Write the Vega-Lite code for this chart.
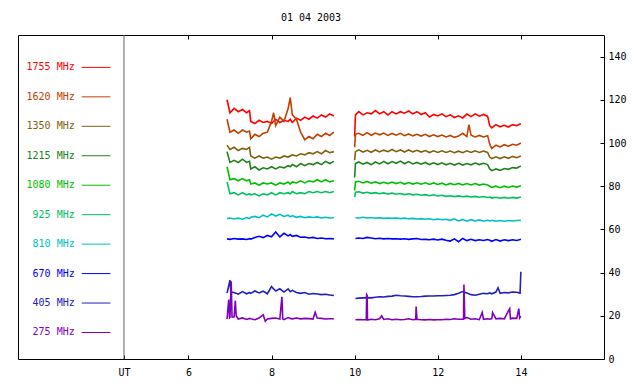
{
  "$schema": "https://vega.github.io/schema/vega-lite/v6.json",
  "width": 586,
  "height": 324,
  "autosize": {"type": "none"},
  "padding": {"left": 18, "top": 35, "right": 36, "bottom": 25},
  "background": "white",
  "title": {"text": "01 04 2003", "font": "DejaVu Sans Mono", "fontSize": 10, "fontWeight": "normal", "color": "#000", "anchor": "middle", "offset": 12},
  "config": {"view": {"stroke": "#000", "strokeWidth": 1}, "font": "DejaVu Sans Mono"},
  "datasets": {
    "main": [
      {"seg":1,"t":6.93,"a":120,"b":111,"c":99,"d":96,"e":89,"f":82,"g":65,"h":55.6,"i":30.5,"j":18.5},
      {"seg":1,"t":6.97,"j":27.5},
      {"seg":1,"t":6.99,"j":19},
      {"seg":1,"t":7.0,"a":114,"b":105,"c":97,"d":91,"e":83,"f":76.5,"g":65.3,"h":55.4,"i":36.5,"j":19.2},
      {"seg":1,"t":7.02,"i":31},
      {"seg":1,"t":7.03,"j":36},
      {"seg":1,"t":7.05,"j":19.5},
      {"seg":1,"t":7.1,"a":116,"b":106,"c":98,"d":92,"e":83.5,"f":77,"g":64.8,"h":55.8,"i":30.8,"j":19.5},
      {"seg":1,"t":7.13,"j":27},
      {"seg":1,"t":7.15,"j":20},
      {"seg":1,"t":7.2,"a":114.5,"b":104.5,"c":96.5,"d":91,"e":82.5,"f":76,"g":65.2,"h":55.5,"i":30,"j":18.5},
      {"seg":1,"t":7.3,"a":115.5,"b":106,"c":97.5,"d":92.5,"e":83.5,"f":77,"g":64.7,"h":55.6,"i":31.2,"j":19},
      {"seg":1,"t":7.4,"a":114,"b":105,"c":97,"d":91,"e":82.5,"f":76,"g":65.5,"h":55.3,"i":30.2,"j":18.3},
      {"seg":1,"t":7.47,"a":115,"b":105.5,"c":98,"d":91.5,"e":83,"f":76.5,"g":65,"h":55.7,"i":30.8,"j":18.8},
      {"seg":1,"t":7.5,"a":110,"b":102,"c":94,"d":88,"e":81,"f":76,"g":65.6,"h":55.5,"i":30.4,"j":18.6},
      {"seg":1,"t":7.6,"a":109,"b":104,"c":93,"d":89,"e":81.5,"f":76.5,"g":66,"h":56.2,"i":31.5,"j":18.2},
      {"seg":1,"t":7.7,"a":110.5,"b":103,"c":94,"d":87.5,"e":80.5,"f":75.5,"g":65.4,"h":56.8,"i":30.6,"j":19},
      {"seg":1,"t":7.8,"a":109.5,"b":104.5,"c":93,"d":88.5,"e":81.5,"f":76.5,"g":66.6,"h":56.2,"i":31.4,"j":20.5},
      {"seg":1,"t":7.85,"j":17.5},
      {"seg":1,"t":7.9,"a":110,"b":105,"c":93.5,"d":88,"e":81,"f":76,"g":65.8,"h":57.2,"i":30.2,"j":18.5},
      {"seg":1,"t":8.0,"a":109,"b":110,"c":92.5,"d":89,"e":81.5,"f":77,"g":67.2,"h":56.6,"i":33.5,"j":18.8},
      {"seg":1,"t":8.05,"b":114},
      {"seg":1,"t":8.1,"a":111,"b":108,"c":93.5,"d":88,"e":80.5,"f":76,"g":66.2,"h":58.8,"i":31.5,"j":19},
      {"seg":1,"t":8.2,"a":109.5,"b":112,"c":93,"d":89,"e":81.5,"f":77,"g":67,"h":56.5,"i":32.5,"j":18.5},
      {"seg":1,"t":8.25,"j":28.8},
      {"seg":1,"t":8.27,"j":18.6},
      {"seg":1,"t":8.3,"a":110.5,"b":110,"c":94,"d":88.5,"e":81,"f":76.5,"g":66,"h":58.2,"i":31,"j":18.2},
      {"seg":1,"t":8.4,"a":110,"b":116,"c":93.5,"d":89.5,"e":82,"f":77,"g":66.6,"h":57,"i":32.5,"j":19.2},
      {"seg":1,"t":8.45,"a":111,"b":121,"c":94,"d":89,"e":81,"f":76.5,"g":65.8,"h":57.6,"i":31.2,"j":18.8},
      {"seg":1,"t":8.5,"a":109.5,"b":113,"c":94.5,"d":90,"e":82,"f":77.5,"g":66.4,"h":56.8,"i":31.8,"j":18.6},
      {"seg":1,"t":8.6,"a":111.5,"b":111,"c":94,"d":89,"e":81.5,"f":76.5,"g":65.6,"h":57.2,"i":30.8,"j":19},
      {"seg":1,"t":8.7,"a":110.5,"b":105,"c":95,"d":90.5,"e":82.5,"f":77,"g":66,"h":56.4,"i":30.4,"j":18.6},
      {"seg":1,"t":8.8,"a":112,"b":101.5,"c":94.5,"d":89.5,"e":81.5,"f":76.5,"g":65.4,"h":56.5,"i":30.8,"j":18.8},
      {"seg":1,"t":8.9,"a":111,"b":103,"c":95.5,"d":90.5,"e":82.5,"f":77.5,"g":65.8,"h":56,"i":30,"j":18.7},
      {"seg":1,"t":9.0,"a":112.5,"b":102,"c":95,"d":90,"e":82,"f":77,"g":65.5,"h":56.3,"i":30.3,"j":18.5},
      {"seg":1,"t":9.05,"j":21.6},
      {"seg":1,"t":9.1,"a":111.5,"b":104,"c":96,"d":91,"e":83,"f":77.5,"g":65.8,"h":55.8,"i":30.1,"j":19},
      {"seg":1,"t":9.2,"a":113,"b":103,"c":95,"d":90,"e":82,"f":77,"g":65.3,"h":56,"i":29.8,"j":18.8},
      {"seg":1,"t":9.3,"a":112,"b":104.5,"c":96.5,"d":91.5,"e":83,"f":77.5,"g":65.6,"h":55.7,"i":30,"j":18.5},
      {"seg":1,"t":9.4,"a":113.5,"b":103.5,"c":95.5,"d":90.5,"e":82,"f":77,"g":65.3,"h":55.8,"i":29.6,"j":18.6},
      {"seg":1,"t":9.5,"a":112.5,"b":105,"c":96,"d":91.5,"e":82.5,"f":77.5,"g":65.4,"h":55.6,"i":29.4,"j":18.6},
      {"seg":2,"t":10.0,"a":103,"b":98,"c":92,"d":84,"e":78,"f":75},
      {"seg":2,"t":10.02,"a":113,"b":104,"c":96,"d":90.5,"e":82,"f":77.2,"g":65.4,"h":55.8,"i":28,"j":18.2},
      {"seg":2,"t":10.1,"a":114.5,"b":104.5,"c":96.8,"d":91.2,"e":82.3,"f":77.4,"g":65.3,"h":56,"i":28.2,"j":18.3},
      {"seg":2,"t":10.2,"a":113,"b":103.5,"c":95.8,"d":90.2,"e":81.5,"f":76.8,"g":65.6,"h":55.8,"i":28.3,"j":18.2},
      {"seg":2,"t":10.28,"j":18.3},
      {"seg":2,"t":10.29,"j":29.8},
      {"seg":2,"t":10.3,"a":114,"b":104.8,"c":96.6,"d":91,"e":82.2,"f":77.2,"g":65.3,"h":56.3,"i":28.4,"j":29.5},
      {"seg":2,"t":10.31,"j":18},
      {"seg":2,"t":10.4,"a":113.5,"b":103.6,"c":95.7,"d":90,"e":81.4,"f":76.7,"g":65.5,"h":56,"i":28.3,"j":18.4},
      {"seg":2,"t":10.5,"a":115,"b":104.6,"c":96.8,"d":91.2,"e":82,"f":77,"g":65.2,"h":55.7,"i":28.6,"j":18.2},
      {"seg":2,"t":10.6,"a":113.5,"b":103.8,"c":95.9,"d":90.3,"e":81.2,"f":76.5,"g":65.4,"h":55.9,"i":28.8,"j":18.6},
      {"seg":2,"t":10.65,"j":20},
      {"seg":2,"t":10.7,"a":114.5,"b":104.6,"c":96.7,"d":91.5,"e":81.8,"f":76.9,"g":65.1,"h":55.6,"i":28.7,"j":18.3},
      {"seg":2,"t":10.8,"a":113,"b":103.5,"c":96,"d":90.4,"e":81.2,"f":76.4,"g":65.3,"h":55.8,"i":29,"j":18.6},
      {"seg":2,"t":10.9,"a":114.5,"b":104.4,"c":97,"d":91.4,"e":81.9,"f":76.8,"g":65.1,"h":55.6,"i":29.1,"j":18.2},
      {"seg":2,"t":11.0,"a":113.5,"b":103.6,"c":96,"d":90.6,"e":81.2,"f":76.3,"g":65.3,"h":55.7,"i":29.5,"j":18.4},
      {"seg":2,"t":11.1,"a":114.5,"b":104.5,"c":96.8,"d":91.6,"e":81.8,"f":76.6,"g":65,"h":55.5,"i":29.3,"j":18.2},
      {"seg":2,"t":11.2,"a":113.8,"b":103.4,"c":95.8,"d":90.4,"e":81,"f":76.1,"g":65.2,"h":55.7,"i":29.2,"j":18.3},
      {"seg":2,"t":11.3,"a":114.8,"b":104.2,"c":96.8,"d":91.4,"e":81.7,"f":76.5,"g":64.9,"h":55.4,"i":29,"j":18.6},
      {"seg":2,"t":11.4,"a":113.5,"b":103.3,"c":95.9,"d":90.3,"e":81,"f":76,"g":65.1,"h":55.6,"i":28.8,"j":18.2},
      {"seg":2,"t":11.47,"j":18.4},
      {"seg":2,"t":11.48,"j":24.3},
      {"seg":2,"t":11.5,"a":114.5,"b":104,"c":96.6,"d":91,"e":81.6,"f":76.3,"g":64.8,"h":55.8,"i":28.8,"j":18.4},
      {"seg":2,"t":11.6,"a":113.2,"b":103.2,"c":95.8,"d":90.2,"e":80.9,"f":75.8,"g":65,"h":55.3,"i":28.9,"j":18.2},
      {"seg":2,"t":11.7,"a":114,"b":104,"c":96.5,"d":91,"e":81.6,"f":76.1,"g":64.7,"h":55.4,"i":29.1,"j":18.1},
      {"seg":2,"t":11.8,"a":112,"b":103,"c":95.6,"d":90,"e":80.8,"f":75.6,"g":64.9,"h":55.2,"i":29.2,"j":18.3},
      {"seg":2,"t":11.9,"a":113.2,"b":103.8,"c":96.4,"d":90.8,"e":81.5,"f":76,"g":64.5,"h":55.5,"i":29.2,"j":18.1},
      {"seg":2,"t":12.0,"a":112.5,"b":103,"c":95.6,"d":90,"e":80.8,"f":75.5,"g":64.8,"h":55.1,"i":29.3,"j":18.2},
      {"seg":2,"t":12.1,"a":113.5,"b":103.7,"c":96.4,"d":90.8,"e":81.4,"f":75.8,"g":64.5,"h":55.5,"i":29.3,"j":18.2},
      {"seg":2,"t":12.2,"a":112.2,"b":102.8,"c":95.6,"d":89.9,"e":80.6,"f":75.3,"g":64.7,"h":55,"i":29.4,"j":18.4},
      {"seg":2,"t":12.3,"a":113,"b":103.5,"c":96.3,"d":90.6,"e":81.3,"f":75.6,"g":64.2,"h":54.6,"i":29.5,"j":18.3},
      {"seg":2,"t":12.4,"a":111.8,"b":102.6,"c":95.5,"d":89.8,"e":80.7,"f":75.2,"g":64.9,"h":55.6,"i":29.8,"j":18.6},
      {"seg":2,"t":12.5,"a":112.6,"b":103.2,"c":96.2,"d":90.6,"e":81.3,"f":75.5,"g":63.9,"h":54.3,"i":30.4,"j":18.4},
      {"seg":2,"t":12.6,"a":111.6,"b":104.5,"c":95.5,"d":89.8,"e":80.6,"f":75.1,"g":64.6,"h":55.8,"i":31.2},
      {"seg":2,"t":12.62,"j":18.4},
      {"seg":2,"t":12.63,"j":34.5},
      {"seg":2,"t":12.65,"j":18.8},
      {"seg":2,"t":12.7,"a":113.4,"b":103,"c":96.4,"d":90.5,"e":81.2,"f":75.4,"g":63.8,"h":54.8,"i":30.5,"j":19.2},
      {"seg":2,"t":12.75,"b":108.5},
      {"seg":2,"t":12.8,"a":112.2,"b":103.6,"c":95.6,"d":89.9,"e":80.6,"f":75,"g":64.5,"h":55.4,"i":29.8,"j":18.4},
      {"seg":2,"t":12.9,"a":113.5,"b":102.8,"c":96.4,"d":90.7,"e":81.2,"f":75.3,"g":63.9,"h":54.8,"i":29.5,"j":18.6},
      {"seg":2,"t":13.0,"a":112.4,"b":103.5,"c":95.6,"d":90,"e":80.5,"f":74.9,"g":64.4,"h":55.2,"i":30,"j":18.2},
      {"seg":2,"t":13.07,"j":21.6},
      {"seg":2,"t":13.1,"a":113.2,"b":102.8,"c":96.3,"d":90.6,"e":81,"f":75.2,"g":63.8,"h":54.9,"i":30.4,"j":18.4},
      {"seg":2,"t":13.2,"a":112.3,"b":103.4,"c":95.6,"d":90,"e":80.6,"f":74.8,"g":64.2,"h":55.3,"i":30.2,"j":18.6},
      {"seg":2,"t":13.25,"a":108,"b":99.5,"c":93.5,"d":88,"e":80,"f":75,"g":63.9,"h":55,"i":30.6,"j":18.4},
      {"seg":2,"t":13.3,"a":107,"b":97.5,"c":92.8,"d":87.2,"e":79.4,"f":74.5,"g":64.2,"h":54.5,"i":30.2,"j":18.7},
      {"seg":2,"t":13.32,"j":21.5},
      {"seg":2,"t":13.4,"a":108.5,"b":99,"c":93.6,"d":88,"e":80,"f":74.9,"g":63.8,"h":55.3,"i":31,"j":18.6},
      {"seg":2,"t":13.45,"i":33},
      {"seg":2,"t":13.5,"a":107.5,"b":98.2,"c":92.8,"d":87.3,"e":79.3,"f":74.4,"g":64.1,"h":54.6,"i":30.4,"j":18.8},
      {"seg":2,"t":13.6,"a":108.2,"b":99.2,"c":93.6,"d":88.2,"e":80,"f":74.8,"g":63.8,"h":55.2,"i":30.8,"j":18.6},
      {"seg":2,"t":13.7,"a":107.4,"b":98.5,"c":92.9,"d":87.8,"e":79.4,"f":74.4,"g":64.1,"h":54.8,"i":30.6},
      {"seg":2,"t":13.73,"j":23.3},
      {"seg":2,"t":13.75,"j":18.6},
      {"seg":2,"t":13.8,"a":108.5,"b":99.4,"c":93.8,"d":88.6,"e":80.1,"f":74.8,"g":63.9,"h":55.2,"i":31,"j":18.9},
      {"seg":2,"t":13.9,"a":108,"b":99,"c":93.2,"d":88.4,"e":79.6,"f":74.5,"g":64.1,"h":54.9,"i":30.9,"j":18.8},
      {"seg":2,"t":13.95,"j":23.3},
      {"seg":2,"t":13.97,"j":19},
      {"seg":2,"t":13.98,"i":30.5},
      {"seg":2,"t":14.0,"a":109,"b":100,"c":94,"d":89.4,"e":80.2,"f":75,"g":64.2,"h":55.4,"i":40.4,"j":19.8}
    ],
    "legend": [
      {"band":"a","label":"1755 MHz"},
      {"band":"b","label":"1620 MHz"},
      {"band":"c","label":"1350 MHz"},
      {"band":"d","label":"1215 MHz"},
      {"band":"e","label":"1080 MHz"},
      {"band":"f","label":"925 MHz"},
      {"band":"g","label":"810 MHz"},
      {"band":"h","label":"670 MHz"},
      {"band":"i","label":"405 MHz"},
      {"band":"j","label":"275 MHz"}
    ]
  },
  "resolve": {"scale": {"y": "independent"}},
  "layer": [
    {
      "data": {"values": [{"k": 1}]},
      "mark": {"type": "rule", "color": "#646464", "strokeWidth": 1},
      "encoding": {
        "x": {"datum": 4.45, "type": "quantitative", "scale": {"domain": [1.9, 16], "nice": false, "zero": false},
          "axis": {"orient": "top", "values": [6, 8, 10, 12, 14], "labels": false, "title": null, "grid": false, "domain": false, "tickSize": -4, "tickColor": "#000"}}
      }
    },
    {
      "data": {"name": "main"},
      "transform": [
        {"fold": ["a", "b", "c", "d", "e", "f", "g", "h", "i", "j"], "as": ["band", "v"]},
        {"filter": "isValid(datum.v)"}
      ],
      "mark": {"type": "line", "strokeWidth": 1.6, "interpolate": "linear"},
      "encoding": {
        "x": {"field": "t", "type": "quantitative", "scale": {"domain": [1.9, 16], "nice": false, "zero": false},
          "axis": {"orient": "bottom", "values": [4.45, 6, 8, 10, 12, 14], "labelExpr": "datum.value < 5 ? 'UT' : datum.label", "title": null, "grid": false, "domain": false, "tickSize": -4, "tickColor": "#000", "labelColor": "#000", "labelFontSize": 10, "labelFont": "DejaVu Sans Mono", "labelPadding": 12}},
        "y": {"field": "v", "type": "quantitative", "scale": {"domain": [0, 150], "nice": false},
          "axis": {"orient": "right", "values": [0, 20, 40, 60, 80, 100, 120, 140], "title": null, "grid": false, "domain": false, "tickSize": -4, "tickColor": "#000", "labelColor": "#000", "labelFontSize": 10, "labelFont": "DejaVu Sans Mono", "labelPadding": 8}},
        "color": {"field": "band", "type": "nominal",
          "scale": {"domain": ["a", "b", "c", "d", "e", "f", "g", "h", "i", "j"], "range": ["#ff0000", "#c04000", "#806010", "#208020", "#00c000", "#00c060", "#00c0c0", "#0000ff", "#2020c0", "#8000c0"]},
          "legend": null},
        "detail": {"field": "seg", "type": "nominal"}
      }
    },
    {
      "data": {"name": "legend"},
      "mark": {"type": "rule", "strokeWidth": 1},
      "encoding": {
        "x": {"datum": 3.434, "type": "quantitative", "axis": null},
        "x2": {"datum": 4.124},
        "y": {"field": "band", "type": "ordinal", "scale": {"type": "point", "domain": ["a", "b", "c", "d", "e", "f", "g", "h", "i", "j"], "padding": 1.05, "align": 0.55}, "axis": null},
        "color": {"field": "band", "type": "nominal", "legend": null}
      }
    },
    {
      "data": {"name": "legend"},
      "mark": {"type": "text", "align": "right", "baseline": "middle", "fontSize": 10, "font": "DejaVu Sans Mono"},
      "encoding": {
        "x": {"datum": 3.265, "type": "quantitative", "axis": null},
        "y": {"field": "band", "type": "ordinal", "scale": {"type": "point", "domain": ["a", "b", "c", "d", "e", "f", "g", "h", "i", "j"], "padding": 1.05, "align": 0.55}, "axis": null},
        "text": {"field": "label"},
        "color": {"field": "band", "type": "nominal", "legend": null}
      }
    }
  ]
}
